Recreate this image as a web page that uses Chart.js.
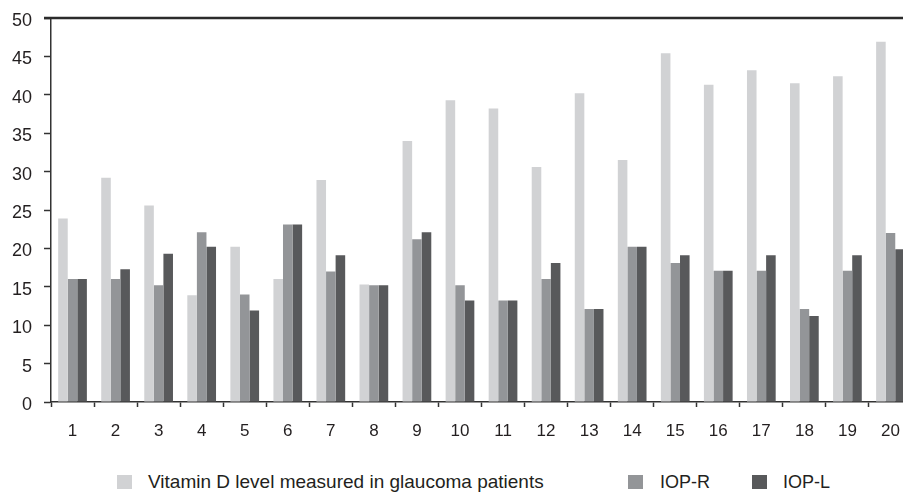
<!DOCTYPE html>
<html>
<head>
<meta charset="utf-8">
<script src="https://cdn.jsdelivr.net/npm/chart.js@4"></script>
<style>
  html, body { margin: 0; padding: 0; background: #fff; overflow: hidden; }
  #wrap { position: relative; width: 912px; height: 450px; }
  .legend { position: absolute; top: 472px; left: 0; font-family: "Liberation Sans", Arial, sans-serif; font-size: 18px; color: #231f20; }
  .item { position: absolute; white-space: nowrap; height: 20px; line-height: 20px; }
  .box { position: absolute; top: 3px; width: 15px; height: 14px; }
  .txt { position: absolute; top: 0; }
</style>
</head>
<body>
<div id="wrap"><canvas id="myChart"></canvas></div>
<div class="legend" id="legend"></div>
<script>
const patients = ['1', '2', '3', '4', '5', '6', '7', '8', '9', '10',
  '11', '12', '13', '14', '15', '16', '17', '18', '19', '20'];
const vitaminD = [23.9, 29.2, 25.6, 13.9, 20.2, 16.0, 28.9, 15.3, 34.0, 39.3,
  38.2, 30.6, 40.2, 31.5, 45.4, 41.3, 43.2, 41.5, 42.4, 46.9];
const iopR = [16.0, 16.0, 15.2, 22.1, 14.0, 23.1, 17.0, 15.2, 21.2, 15.2,
  13.2, 16.0, 12.1, 20.2, 18.1, 17.1, 17.1, 12.1, 17.1, 22.0];
const iopL = [16.0, 17.3, 19.3, 20.2, 11.9, 23.1, 19.1, 15.2, 22.1, 13.2,
  13.2, 18.1, 12.1, 20.2, 19.1, 17.1, 19.1, 11.2, 19.1, 19.9];
const seriesNames = ['Vitamin D level measured in glaucoma patients', 'IOP-R', 'IOP-L'];
const colors = ['#d1d2d4', '#939598', '#58595b'];

const family = '"Liberation Sans", Arial, sans-serif';

// line along the top of the plot (the 50 gridline), including its tick
const topLine = {
    id: 'topLine',
    afterDraw(chart) {
        const y = chart.scales.y;
        const py = Math.round(y.getPixelForValue(y.max));
        const c = chart.ctx;
        c.save();
        c.strokeStyle = '#2b2b2b';
        c.lineWidth = 2.5;
        c.beginPath();
        c.moveTo(y.right - 7, py);
        c.lineTo(chart.chartArea.right, py);
        c.stroke();
        c.restore();
    }
};

const ctx = document.getElementById('myChart');
const myChart = new Chart(ctx, {
    type: 'bar',
    data: {
        labels: patients,
        datasets: [vitaminD, iopR, iopL].map((d, i) => ({
            label: seriesNames[i],
            data: d,
            backgroundColor: colors[i],
            borderWidth: 0
        }))
    },
    options: {
        responsive: true,
        maintainAspectRatio: false,
        animation: false,
        categoryPercentage: 0.667,
        barPercentage: 1.0,
        layout: { padding: { top: 18, left: 0, right: 0, bottom: 0 } },
        plugins: {
            legend: { display: false },
            tooltip: { enabled: false }
        },
        scales: {
            x: {
                afterFit: s => { s.height = 48; s.paddingLeft = 0; s.paddingRight = 0; },
                grid: {
                    offset: true,
                    drawOnChartArea: false,
                    tickLength: 5,
                    tickColor: '#333',
                    tickWidth: 1.5
                },
                border: { color: '#333', width: 1.5 },
                ticks: { color: '#231f20', font: { family: family, size: 17 }, padding: 14, maxRotation: 0 }
            },
            y: {
                min: 0,
                max: 50,
                afterFit: s => { s.width = 51; s.paddingTop = 0; s.paddingBottom = 0; },
                grid: {
                    drawOnChartArea: false,
                    tickLength: 7,
                    tickColor: '#333',
                    tickWidth: 1.5
                },
                border: { color: '#333', width: 1.5 },
                ticks: { stepSize: 5, color: '#231f20', font: { family: family, size: 18 }, padding: 12, labelOffset: 3 }
            }
        }
    },
    plugins: [topLine]
});

// legend laid out as in the original figure
const legendPos = [[117, 148, 19], [628, 660, 18], [752, 783, 18]];
const legend = document.getElementById('legend');
seriesNames.forEach((name, i) => {
    const item = document.createElement('div');
    item.className = 'item';
    item.style.left = '0px';
    item.innerHTML = '<span class="box" style="left:' + legendPos[i][0] + 'px;background:' + colors[i] +
        '"></span><span class="txt" style="left:' + legendPos[i][1] + 'px;font-size:' + legendPos[i][2] + 'px">' + name + '</span>';
    legend.appendChild(item);
});
</script>
</body>
</html>
